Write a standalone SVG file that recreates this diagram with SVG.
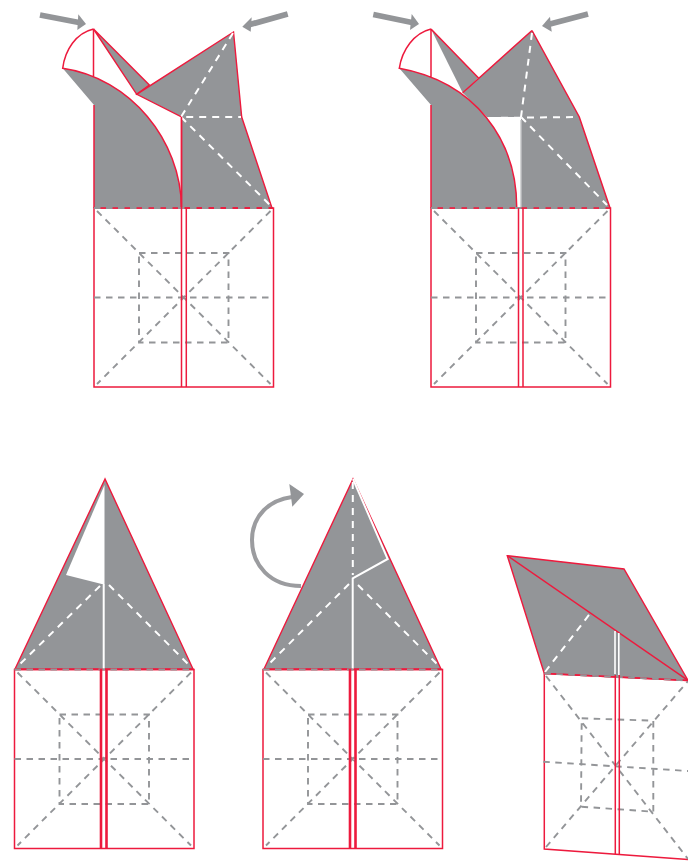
<svg xmlns="http://www.w3.org/2000/svg" width="688" height="861" viewBox="0 0 688 861">
<style>
.f{fill:#939598;stroke:none}
.r{fill:none;stroke:#ed1a3d;stroke-width:1.5;stroke-linejoin:miter}
.rt{fill:none;stroke:#ed1a3d;stroke-width:2.6}
.rf{fill:#939598;stroke:#ed1a3d;stroke-width:1.4}
.g{fill:none;stroke:#939598;stroke-width:1.9;stroke-dasharray:6.500 5.500}
.w{fill:none;stroke:#fff;stroke-width:2;stroke-dasharray:7 6}
.ws{fill:none;stroke:#fff;stroke-width:2}
.gs{fill:none;stroke:#c4c5c7;stroke-width:1.4}
.a{fill:#939598;stroke:none}
.as{fill:none;stroke:#939598;stroke-width:5.800}
</style>
<defs>
<g id="grid">
<rect class="r" x="0" y="0" width="179.500" height="179"/>
<path class="g" d="M0 89.500H179.500M45 45H134.500V134.500H45ZM3 3L176.500 176M176.500 3L3 176"/>
</g>
</defs>

<g id="fig1">
<use href="#grid" x="94" y="208"/>
<path class="f" d="M62.700 68.300L94 105V208H181.500C181 140 130 78 62.700 68.300Z"/>
<path class="r" d="M94 105V208"/>
<path class="r" d="M93.500 29C76 33 65 50 62.700 68.300C130 78 181 140 181.500 208M93.500 29V77"/>
<path class="rf" d="M93.500 29L149.300 85L136.700 94.300Z"/>
<path class="rf" d="M233.500 32L136.700 94.300L181.500 117V208H272L241.700 117Z"/>
<path class="w" d="M233 33L181 117L241 117M181 117L270 205"/>
<path class="r" d="M94 208H273"/>
<path class="g" d="M94 208H273"/>
<path class="r" d="M181.500 117V387M186.300 208V387"/>
</g>

<g id="fig2">
<use href="#grid" x="431" y="208"/>
<path class="f" d="M532 30.500L462.700 92.700L487 117H521V208H610L579.300 117Z"/>
<path class="f" d="M431 29L478.300 77.700L462.700 92.700Z"/>
<path class="f" d="M399.300 68.300L431 105V208H516.700C517 140 475 82 399.300 68.300Z"/>
<path class="r" d="M431 29C414 33 402 50 399.300 68.300C475 82 517 140 516.700 208M431 29V77M431 105V208M431 29L478.300 77.700M532 30.500L462.700 92.700M532 30.500L579.300 117L610 208"/>
<path class="gs" d="M521 120V208"/>
<path class="w" d="M532 33L521 117M488 118L579 117M521 117L607 205"/>
<path class="r" d="M431 208H610"/>
<path class="g" d="M431 208H610"/>
<path class="r" d="M518.500 208V387M523 208V387"/>
</g>

<g id="fig3">
<use href="#grid" x="14.500" y="669.500"/>
<path class="rf" d="M105 479L15 669H193Z"/>
<path style="fill:#fff;stroke:none" d="M104.500 485L66 575L101.700 584L104.500 584Z"/>
<path class="ws" d="M103.700 584V669"/>
<path class="w" d="M100 586L18 666M109 585L190 666"/>
<path class="r" d="M14.500 669.500H194"/>
<path class="g" d="M14.500 669.500H194"/>
<path class="rt" d="M101 669V848M106.500 669V848"/>
</g>

<g id="fig4">
<use href="#grid" x="263" y="669.500"/>
<path class="as" style="stroke-width:4;stroke:#9b9c9f" d="M301 586C270 586 252 565 252 540C252 515 270 500 292 497"/>
<path class="a" d="M304 494L289.300 484L292.300 506.700Z"/>
<path class="rf" d="M353 479L264 669H441Z"/>
<path class="ws" d="M353 479L387.700 559L352.700 578.300V669"/>
<path class="w" d="M352.800 482V575M349 584L267 666M358 585L439 666"/>
<path class="r" d="M263 669.500H442.500"/>
<path class="g" d="M263 669.500H442.500"/>
<path class="rt" d="M350 669V848M355.500 669V848"/>
</g>

<g id="fig5">
<path class="rf" d="M507.300 555.700L624 569L688 680.500L544.300 673.500Z"/>
<path class="r" d="M507.300 555.700L688 680.500"/>
<path class="w" d="M545 672L590.700 612.700"/>
<path class="ws" style="stroke-width:1.600" d="M615 631V674M618.800 633V675"/>
<path class="r" d="M544.300 673.500V849L688 859.500"/>
<path class="g" d="M543.300 761.700L688 771M581.700 718.300L653.300 720.700V811.700L581 806.700ZM546 676L688 859M546 847L688 681"/>
<path class="r" d="M544.300 673.500L688 680.500"/>
<path class="g" d="M544.300 673.500L688 680.500"/>
<path class="r" d="M615.300 675V854M619.300 675V854"/>
</g>

<g id="arrows">
<path class="as" d="M40 15L79 22.500"/>
<path class="a" d="M86 24L78.300 14.300L77.300 30Z"/>
<path class="as" d="M287.700 14L250 24.500"/>
<path class="a" d="M242.300 26.700L251.700 17.300L250.700 31.700Z"/>
<path class="as" d="M373.300 14.500L412 22.500"/>
<path class="a" d="M419 24L411.700 14L410 30Z"/>
<path class="as" d="M588 14L550 24"/>
<path class="a" d="M542 26L550 16.700L551.700 31.700Z"/>
</g>
</svg>
